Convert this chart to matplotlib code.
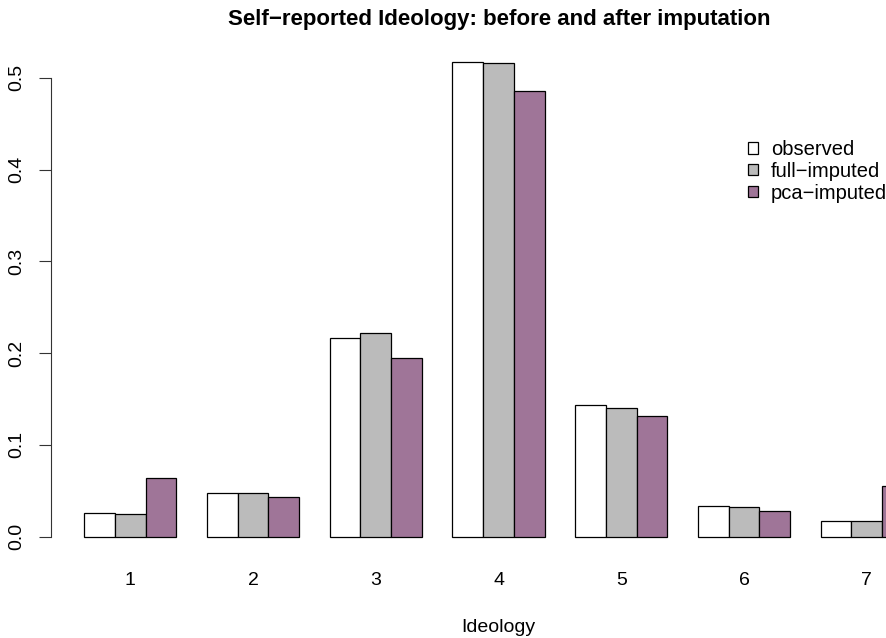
import matplotlib.pyplot as plt
from matplotlib.patches import Rectangle

plt.rcParams['font.family'] = ['Liberation Sans', 'DejaVu Sans']

categories = ['1', '2', '3', '4', '5', '6', '7']
series = ['observed', 'full\u2212imputed', 'pca\u2212imputed']
observed = [0.026, 0.048, 0.217, 0.517, 0.143, 0.033, 0.017]
full_imputed = [0.025, 0.048, 0.222, 0.516, 0.140, 0.032, 0.017]
pca_imputed = [0.064, 0.043, 0.195, 0.486, 0.131, 0.028, 0.055]
colors = ['white', '#BBBBBB', '#9F7598']

values = [observed, full_imputed, pca_imputed]

fig = plt.figure(figsize=(8.87, 6.38), dpi=100)
# R barplot: plot region runs past the right edge of the picture
ax = fig.add_axes([51 / 887, 82.3 / 638, 895 / 887, 512.4 / 638])

for s, vals in enumerate(values):
    lefts = [1 + g * 4 + s for g in range(len(categories))]
    ax.bar(lefts, vals, width=1, align='edge', color=colors[s],
           edgecolor='black', linewidth=0.9)

ax.set_xlim(-0.08, 29.08)
ax.set_ylim(-0.0207, 0.5375)

for sp in ['top', 'right', 'bottom']:
    ax.spines[sp].set_visible(False)
ax.spines['left'].set_bounds(0, 0.5)
ax.spines['left'].set_color('#333333')

ax.set_yticks([0.0, 0.1, 0.2, 0.3, 0.4, 0.5])
ax.set_yticklabels(['0.0', '0.1', '0.2', '0.3', '0.4', '0.5'],
                   rotation=90, va='center', fontsize=14)
ax.tick_params(axis='y', length=8.5, pad=10, color='#333333')

ax.set_xticks([2.5 + g * 4 for g in range(len(categories))])
ax.set_xticklabels(categories, fontsize=14)
ax.tick_params(axis='x', length=0, pad=12)

ax.set_xlabel('Ideology', fontsize=14, labelpad=21)
fig.text(499 / 887, 1 - 20 / 638,
         'Self\u2212reported Ideology: before and after imputation',
         ha='center', va='center', fontsize=16, fontweight='bold')

handles = [Rectangle((0, 0), 1, 1, facecolor=c, edgecolor='black', linewidth=0.9)
           for c in colors]
fig.legend(handles, series, loc='upper left',
           bbox_to_anchor=(748 / 887, 1 - 140 / 638), frameon=False,
           fontsize=14.5, handlelength=0.5, handleheight=0.5,
           handletextpad=0.65, labelspacing=0.14, borderaxespad=0,
           borderpad=0)

fig.savefig('out.png', dpi=100)
